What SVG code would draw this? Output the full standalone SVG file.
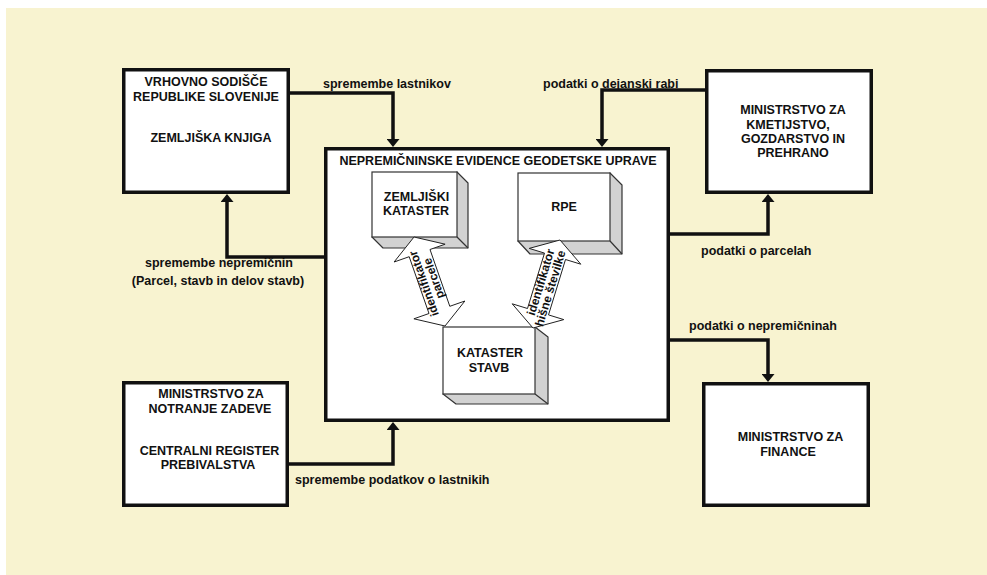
<svg xmlns="http://www.w3.org/2000/svg" width="987" height="575" viewBox="0 0 987 575">
<defs>
<style>
.bg{fill:#F8F3D0}
.box{fill:#fff;stroke:#111;stroke-width:3.5}
.face{fill:#fff;stroke:#333;stroke-width:1.2}
.side{fill:#D2D2D2;stroke:#333;stroke-width:1.2;stroke-linejoin:round}
.edge{stroke:#333;stroke-width:1.2}
.conn{fill:none;stroke:#111;stroke-width:3.5;stroke-linejoin:miter}
.t{font-family:"Liberation Sans",Arial,sans-serif;font-weight:bold;font-size:12.5px;fill:#111}
.m{text-anchor:middle}
.fat{fill:#fff;stroke:#222;stroke-width:1;stroke-linejoin:miter}
.at{font-family:"Liberation Sans",Arial,sans-serif;font-weight:bold;font-size:12px;fill:#111;text-anchor:middle}
</style>
<marker id="ah" viewBox="0 0 8 13" refX="1" refY="6.5" markerWidth="8" markerHeight="13" markerUnits="userSpaceOnUse" orient="auto"><path d="M0,0 L8,6.5 L0,13 z" fill="#111"/></marker>
</defs>
<rect class="bg" x="6" y="8" width="981" height="567"/>

<g id="connectors">
<polyline class="conn" points="290,93 393,93 393,140" marker-end="url(#ah)"/>
<text class="t" x="323" y="88">spremembe lastnikov</text>
<polyline class="conn" points="705,90 602,90 602,140" marker-end="url(#ah)"/>
<text class="t" x="543" y="88">podatki o dejanski rabi</text>
<polyline class="conn" points="670,234 768,234 768,201" marker-end="url(#ah)"/>
<text class="t" x="701" y="255">podatki o parcelah</text>
<polyline class="conn" points="670,340 768,340 768,375" marker-end="url(#ah)"/>
<text class="t" x="689" y="330">podatki o nepremičninah</text>
<polyline class="conn" points="324,257 227,257 227,201" marker-end="url(#ah)"/>
<text class="t m" x="219" y="266.5">spremembe nepremičnin</text>
<text class="t m" x="218" y="285">(Parcel, stavb in delov stavb)</text>
<polyline class="conn" points="289,464 393,464 393,429" marker-end="url(#ah)"/>
<text class="t" x="295" y="484">spremembe podatkov o lastnikih</text>
</g>

<g id="vrhovno-sodisce">
<rect class="box" x="123.75" y="69.75" width="164.5" height="122.5"/>
<text class="t m" x="206" y="85.5">VRHOVNO SODIŠČE</text>
<text class="t m" x="206" y="100.5">REPUBLIKE SLOVENIJE</text>
<text class="t m" x="211" y="142">ZEMLJIŠKA KNJIGA</text>
</g>

<g id="ministrstvo-kmetijstvo">
<rect class="box" x="706.75" y="70.75" width="164.5" height="121.5"/>
<text class="t m" x="793" y="114">MINISTRSTVO ZA</text>
<text class="t m" x="788" y="128.5">KMETIJSTVO,</text>
<text class="t m" x="793" y="142.5">GOZDARSTVO IN</text>
<text class="t m" x="793" y="156.5">PREHRANO</text>
</g>

<g id="ministrstvo-notranje">
<rect class="box" x="123.75" y="382.75" width="163.5" height="122.5"/>
<text class="t m" x="211" y="397.5">MINISTRSTVO ZA</text>
<text class="t m" x="210" y="412.5">NOTRANJE ZADEVE</text>
<text class="t m" x="209.5" y="454.5">CENTRALNI REGISTER</text>
<text class="t m" x="208" y="468.5">PREBIVALSTVA</text>
</g>

<g id="ministrstvo-finance">
<rect class="box" x="703.75" y="383.75" width="164.5" height="121.5"/>
<text class="t m" x="790.5" y="440.5">MINISTRSTVO ZA</text>
<text class="t m" x="788" y="455.5">FINANCE</text>
</g>

<g id="geodetska-uprava">
<rect class="box" x="325.75" y="148.75" width="342.5" height="271.5"/>
<text class="t m" x="498" y="164.5">NEPREMIČNINSKE EVIDENCE GEODETSKE UPRAVE</text>
</g>

<g id="zemljiski-kataster">
<polygon class="side" points="457,172 468,183 468,248 383,248 372,237"/>
<line class="edge" x1="457" y1="237" x2="468" y2="248"/>
<rect class="face" x="372" y="172" width="85" height="65"/>
<text class="t m" x="416.5" y="201">ZEMLJIŠKI</text>
<text class="t m" x="416" y="215">KATASTER</text>
</g>

<g id="rpe">
<polygon class="side" points="610,173 622,185 622,254 530,254 518,241"/>
<line class="edge" x1="610" y1="241" x2="622" y2="254"/>
<rect class="face" x="518" y="173" width="92" height="68"/>
<text class="t m" x="564" y="211">RPE</text>
</g>

<g id="kataster-stavb">
<polygon class="side" points="535,327 548,337 548,404 456,404 443,394"/>
<line class="edge" x1="535" y1="394" x2="548" y2="404"/>
<rect class="face" x="443" y="327" width="92" height="67"/>
<text class="t m" x="490" y="357">KATASTER</text>
<text class="t m" x="489" y="372">STAVB</text>
</g>

<g id="arrow-parcele">
<polygon class="fat" points="414,237 445.1,244.2 430,249.5 449.8,306.3 464.9,301 445,326 413.9,318.8 429,313.5 409.2,256.7 394.1,262"/>
<g transform="translate(429.5,281.5) rotate(-109.2)">
<text class="at" x="0" y="-2">identifikator</text>
<text class="at" x="1.5" y="9">parcele</text>
</g>
</g>

<g id="arrow-hisne">
<polygon class="fat" points="560,240 580.8,264.2 565.5,259.5 548.5,314.9 563.8,319.6 533,328 512.2,303.8 527.5,308.5 544.5,253.1 529.2,248.4"/>
<g transform="translate(546.5,284) rotate(-73)">
<text class="at" x="0" y="-2">identifikator</text>
<text class="at" x="-3" y="9">hišne številke</text>
</g>
</g>
</svg>
